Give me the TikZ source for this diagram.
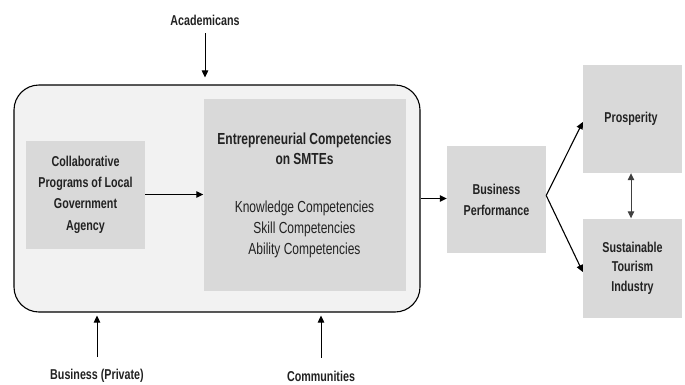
\documentclass[tikz,border=0pt]{standalone}
\usepackage{fontspec}
\setmainfont{Liberation Sans}[FakeStretch=0.75]
\usetikzlibrary{arrows.meta}
\definecolor{frameGray}{RGB}{242,242,242}
\definecolor{boxGray}{RGB}{217,217,217}
\definecolor{textGray}{RGB}{34,34,34}

\begin{document}
\begin{tikzpicture}[x=1pt,y=-1pt,
    greybox/.style={fill=boxGray,text=textGray,align=center,inner sep=0pt},
    lbl/.style={text=textGray,inner sep=0pt,font=\fontsize{14.3}{17}\selectfont\bfseries},
    arr/.style={-{Triangle[length=7pt,width=6.5pt]},line width=1.1pt}]
  \useasboundingbox (0,0) rectangle (685,384);

  % Outer frame
  \node[draw,line width=1.1pt,rounded corners=25pt,fill=frameGray,minimum width=406pt,minimum height=227pt] (frame) at (217,198.5) {};

  % Boxes inside the frame
  \node[greybox,minimum width=119pt,minimum height=108pt,font=\fontsize{14.3}{21.3}\selectfont\bfseries] (collab) at (85.5,194.5) {
    Collaborative\\Programs of Local\\Government\\Agency
  };
  \node[greybox,minimum width=202pt,minimum height=192pt,font=\fontsize{16}{21}\selectfont] (entre) at (304.5,195) {
    \textbf{Entrepreneurial Competencies}\\[-1pt]
    \textbf{on SMTEs}\\[27pt]
    Knowledge Competencies\\Skill Competencies\\Ability Competencies
  };

  % Boxes on the right
  \node[greybox,minimum width=99pt,minimum height=107pt,font=\fontsize{14.3}{21}\selectfont\bfseries] (bperf) at (496.5,199.5) {
    Business\\Performance
  };
  \node[greybox,minimum width=99pt,minimum height=108pt,font=\fontsize{14.3}{20}\selectfont\bfseries] (prosp) at (632.5,119) {
    Prosperity
  };
  \node[greybox,minimum width=99pt,minimum height=99pt,font=\fontsize{14.3}{19.5}\selectfont\bfseries] (sust) at (632.5,268) {
    Sustainable\\Tourism\\Industry
  };

  % Outside actors
  \node[lbl] (acad) at (205,20) {Academicans};
  \node[lbl] (busi) at (97,376) {Business (Private)};
  \node[lbl] (comm) at (321,376) {Communities};

  % Arrows
  \draw[arr,line width=0.9pt,shorten <=8pt,shorten >=7pt] (acad.south) -- (acad.south |- frame.north);
  \draw[arr,line width=0.9pt,shorten <=12pt,shorten >=3pt] (busi.north) -- (busi.north |- frame.south);
  \draw[arr,line width=0.9pt,shorten <=13pt,shorten >=3pt] (comm.north) -- (comm.north |- frame.south);
  \draw[arr] (collab.east) -- (collab.east -| entre.west);
  \draw[arr] (frame.east) -- (frame.east -| bperf.west);
  \draw[arr] ([yshift=4pt]bperf.east) -- ([yshift=-3pt]prosp.west);
  \draw[arr] ([yshift=4pt]bperf.east) -- ([yshift=-4pt]sust.west);
  \draw[{Triangle[length=7pt,width=6.5pt]}-{Triangle[length=7pt,width=6.5pt]},line width=0.9pt,black!75] ([xshift=-1.5pt]prosp.south) -- ([xshift=-1.5pt]sust.north);
\end{tikzpicture}
\end{document}
